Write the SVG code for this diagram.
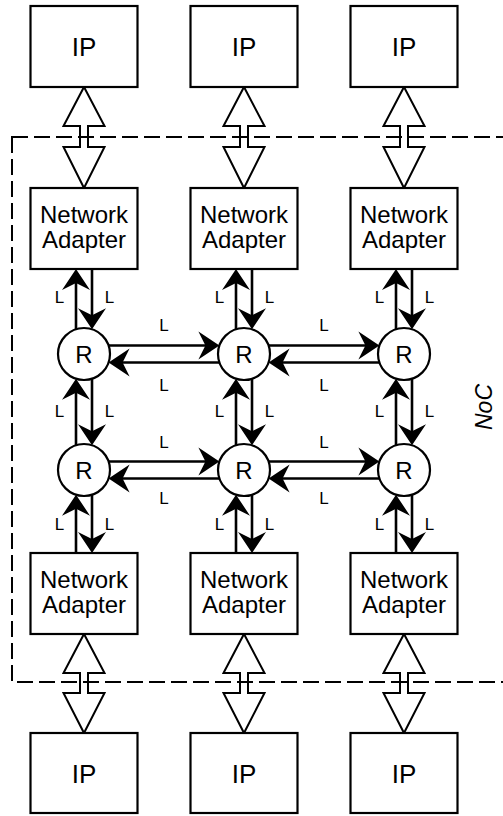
<svg xmlns="http://www.w3.org/2000/svg" width="503" height="816" viewBox="0 0 503 816">
<style>
.box{fill:#fff;stroke:#000;stroke-width:2.2}
.rt{fill:#fff;stroke:#000;stroke-width:2.2}
.t{font-family:"Liberation Sans",Arial,sans-serif;font-size:24px;text-anchor:middle;fill:#000}
.ip{font-family:"Liberation Sans",Arial,sans-serif;font-size:26px;text-anchor:middle;fill:#000}
.lb{font-family:"Liberation Sans",Arial,sans-serif;font-size:17px;text-anchor:middle;fill:#000}
.lk{stroke:#000;stroke-width:2.6;fill:none;marker-end:url(#ah)}
.dbl{fill:#fff;stroke:#000;stroke-width:2;stroke-linejoin:miter}
.noc{fill:none;stroke:#000;stroke-width:2;stroke-dasharray:16 6}
</style>
<defs>
<marker id="ah" markerUnits="userSpaceOnUse" orient="auto" refX="0" refY="0" markerWidth="40" markerHeight="40" overflow="visible">
<path d="M12,0 L-9,-14 L-2,0 L-9,14 Z" fill="#000"/>
</marker>
</defs>
<rect width="503" height="816" fill="#fff"/>

<g id="connectors">
<path class="dbl" d="M84,87 L104.5,126 L88,126 L88,147 L104.5,147 L84,188 L63.5,147 L80,147 L80,126 L63.5,126 Z"/>
<path class="dbl" d="M244,87 L264.5,126 L248,126 L248,147 L264.5,147 L244,188 L223.5,147 L240,147 L240,126 L223.5,126 Z"/>
<path class="dbl" d="M404,87 L424.5,126 L408,126 L408,147 L424.5,147 L404,188 L383.5,147 L400,147 L400,126 L383.5,126 Z"/>
<path class="dbl" d="M84,634 L104.5,673 L88,673 L88,693 L104.5,693 L84,733 L63.5,693 L80,693 L80,673 L63.5,673 Z"/>
<path class="dbl" d="M244,634 L264.5,673 L248,673 L248,693 L264.5,693 L244,733 L223.5,693 L240,693 L240,673 L223.5,673 Z"/>
<path class="dbl" d="M404,634 L424.5,673 L408,673 L408,693 L424.5,693 L404,733 L383.5,693 L400,693 L400,673 L383.5,673 Z"/>

<line class="lk" x1="76" y1="329.3" x2="76" y2="281"/>
<line class="lk" x1="92" y1="269" x2="92" y2="317.3"/>
<line class="lk" x1="76" y1="445.3" x2="76" y2="390.7"/>
<line class="lk" x1="92" y1="378.7" x2="92" y2="433.3"/>
<line class="lk" x1="76" y1="553" x2="76" y2="506.7"/>
<line class="lk" x1="92" y1="494.7" x2="92" y2="541"/>
<line class="lk" x1="236" y1="329.3" x2="236" y2="281"/>
<line class="lk" x1="252" y1="269" x2="252" y2="317.3"/>
<line class="lk" x1="236" y1="445.3" x2="236" y2="390.7"/>
<line class="lk" x1="252" y1="378.7" x2="252" y2="433.3"/>
<line class="lk" x1="236" y1="553" x2="236" y2="506.7"/>
<line class="lk" x1="252" y1="494.7" x2="252" y2="541"/>
<line class="lk" x1="396" y1="329.3" x2="396" y2="281"/>
<line class="lk" x1="412" y1="269" x2="412" y2="317.3"/>
<line class="lk" x1="396" y1="445.3" x2="396" y2="390.7"/>
<line class="lk" x1="412" y1="378.7" x2="412" y2="433.3"/>
<line class="lk" x1="396" y1="553" x2="396" y2="506.7"/>
<line class="lk" x1="412" y1="494.7" x2="412" y2="541"/>

<line class="lk" x1="108.6" y1="345.5" x2="207.4" y2="345.5"/>
<line class="lk" x1="219.4" y1="362.5" x2="120.6" y2="362.5"/>
<line class="lk" x1="268.6" y1="345.5" x2="367.4" y2="345.5"/>
<line class="lk" x1="379.4" y1="362.5" x2="280.6" y2="362.5"/>
<line class="lk" x1="108.6" y1="461.5" x2="207.4" y2="461.5"/>
<line class="lk" x1="219.4" y1="478.5" x2="120.6" y2="478.5"/>
<line class="lk" x1="268.6" y1="461.5" x2="367.4" y2="461.5"/>
<line class="lk" x1="379.4" y1="478.5" x2="280.6" y2="478.5"/>

<g id="labels">
<text class="lb" font-size="17" x="59.5" y="303">L</text><text class="lb" font-size="17" x="109.5" y="303">L</text>
<text class="lb" font-size="17" x="219.5" y="303">L</text><text class="lb" font-size="17" x="269.5" y="303">L</text>
<text class="lb" font-size="17" x="379.5" y="303">L</text><text class="lb" font-size="17" x="429.5" y="303">L</text>
<text class="lb" font-size="17" x="59.5" y="417">L</text><text class="lb" font-size="17" x="109.5" y="417">L</text>
<text class="lb" font-size="17" x="219.5" y="417">L</text><text class="lb" font-size="17" x="269.5" y="417">L</text>
<text class="lb" font-size="17" x="379.5" y="417">L</text><text class="lb" font-size="17" x="429.5" y="417">L</text>
<text class="lb" font-size="17" x="59.5" y="530">L</text><text class="lb" font-size="17" x="109.5" y="530">L</text>
<text class="lb" font-size="17" x="219.5" y="530">L</text><text class="lb" font-size="17" x="269.5" y="530">L</text>
<text class="lb" font-size="17" x="379.5" y="530">L</text><text class="lb" font-size="17" x="429.5" y="530">L</text>
<text class="lb" font-size="17" x="164" y="331">L</text><text class="lb" font-size="17" x="164" y="391">L</text>
<text class="lb" font-size="17" x="324" y="331">L</text><text class="lb" font-size="17" x="324" y="391">L</text>
<text class="lb" font-size="17" x="164" y="448">L</text><text class="lb" font-size="17" x="164" y="504">L</text>
<text class="lb" font-size="17" x="324" y="448">L</text><text class="lb" font-size="17" x="324" y="504">L</text>
</g>
</g>

<g id="noc">
<rect class="noc" x="12" y="137" width="530" height="545"/>
<text transform="translate(491.5,407) rotate(-90)" font-family="Liberation Sans, Arial, sans-serif" font-style="italic" font-size="23" text-anchor="middle">NoC</text>
</g>

<g id="ip1"><rect class="box" x="30.5" y="6" width="107" height="81"/><text class="ip" x="84" y="56">IP</text></g>
<g id="ip2"><rect class="box" x="190.5" y="6" width="107" height="81"/><text class="ip" x="244" y="56">IP</text></g>
<g id="ip3"><rect class="box" x="350.5" y="6" width="107" height="81"/><text class="ip" x="404" y="56">IP</text></g>

<g id="na1"><rect class="box" x="30.5" y="188" width="107" height="81"/><text class="t" x="84" y="223">Network</text><text class="t" x="84" y="248">Adapter</text></g>
<g id="na2"><rect class="box" x="190.5" y="188" width="107" height="81"/><text class="t" x="244" y="223">Network</text><text class="t" x="244" y="248">Adapter</text></g>
<g id="na3"><rect class="box" x="350.5" y="188" width="107" height="81"/><text class="t" x="404" y="223">Network</text><text class="t" x="404" y="248">Adapter</text></g>

<g id="r11"><circle class="rt" cx="84" cy="354" r="26"/><text class="t" x="84" y="362.5">R</text></g>
<g id="r12"><circle class="rt" cx="244" cy="354" r="26"/><text class="t" x="244" y="362.5">R</text></g>
<g id="r13"><circle class="rt" cx="404" cy="354" r="26"/><text class="t" x="404" y="362.5">R</text></g>
<g id="r21"><circle class="rt" cx="84" cy="470" r="26"/><text class="t" x="84" y="478.5">R</text></g>
<g id="r22"><circle class="rt" cx="244" cy="470" r="26"/><text class="t" x="244" y="478.5">R</text></g>
<g id="r23"><circle class="rt" cx="404" cy="470" r="26"/><text class="t" x="404" y="478.5">R</text></g>

<g id="na4"><rect class="box" x="30.5" y="553" width="107" height="81"/><text class="t" x="84" y="588">Network</text><text class="t" x="84" y="613">Adapter</text></g>
<g id="na5"><rect class="box" x="190.5" y="553" width="107" height="81"/><text class="t" x="244" y="588">Network</text><text class="t" x="244" y="613">Adapter</text></g>
<g id="na6"><rect class="box" x="350.5" y="553" width="107" height="81"/><text class="t" x="404" y="588">Network</text><text class="t" x="404" y="613">Adapter</text></g>

<g id="ip4"><rect class="box" x="30.5" y="733" width="107" height="80"/><text class="ip" x="84" y="782.5">IP</text></g>
<g id="ip5"><rect class="box" x="190.5" y="733" width="107" height="80"/><text class="ip" x="244" y="782.5">IP</text></g>
<g id="ip6"><rect class="box" x="350.5" y="733" width="107" height="80"/><text class="ip" x="404" y="782.5">IP</text></g>
</svg>
